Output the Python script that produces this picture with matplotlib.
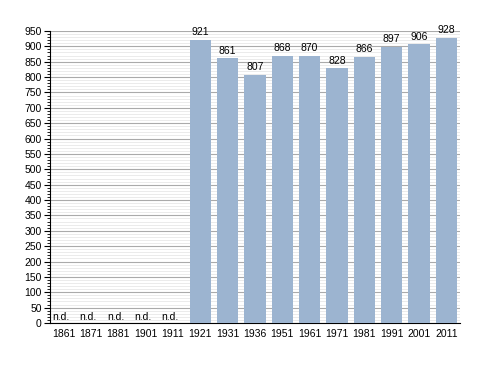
import matplotlib
matplotlib.use('Agg')
from matplotlib import pyplot as plt
from matplotlib.ticker import MultipleLocator
import numpy as np

plt.rcParams['font.family'] = ['Liberation Sans', 'DejaVu Sans']

years = ['1861', '1871', '1881', '1901', '1911', '1921', '1931', '1936',
         '1951', '1961', '1971', '1981', '1991', '2001', '2011']
population = [None, None, None, None, None, 921, 861, 807,
              868, 870, 828, 866, 897, 906, 928]

fig = plt.figure(figsize=(4.88, 3.73), dpi=100)
ax = fig.add_axes([0.1025, 0.134, 0.840, 0.783])

x = np.arange(len(years))
for i, v in enumerate(population):
    if v is None:
        ax.text(i - 0.1, 4, 'n.d.', ha='center', va='bottom', fontsize=7.5)
    else:
        ax.bar(i, v, width=0.78, color='#9cb4d0', zorder=3)
        ax.text(i, v + 9, str(v), ha='center', va='bottom', fontsize=7.5)

ax.set_xlim(-0.5, len(years) - 0.5)
ax.set_ylim(0, 950)
ax.yaxis.set_major_locator(MultipleLocator(50))
ax.yaxis.set_minor_locator(MultipleLocator(10))
ax.grid(axis='y', which='major', color='#aaaaaa', linewidth=0.8, zorder=0)
ax.grid(axis='y', which='minor', color='#e8e8e8', linewidth=0.6, zorder=0)
ax.set_xticks(x)
ax.set_xticklabels(years, fontsize=7.5)
ax.tick_params(axis='x', length=0, pad=4)
ax.tick_params(axis='y', which='major', length=4, labelsize=7.5, pad=2)
ax.tick_params(axis='y', which='minor', length=2)
ax.spines['top'].set_visible(False)
ax.spines['right'].set_visible(False)

fig.savefig('out.png', dpi=100)
